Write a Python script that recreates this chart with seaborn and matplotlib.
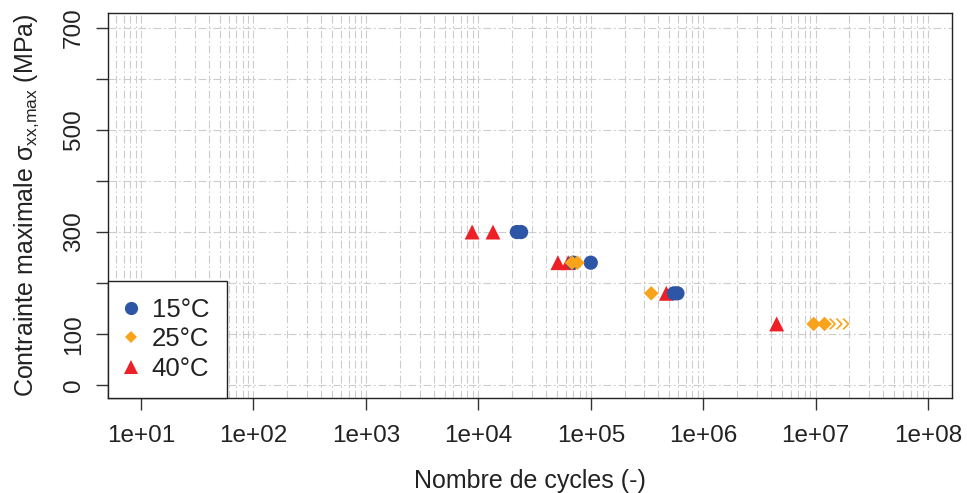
import numpy as np
import pandas as pd
import matplotlib
matplotlib.use("Agg")
import matplotlib.pyplot as plt
import seaborn as sns
from matplotlib.ticker import LogLocator, FixedLocator, NullFormatter
from matplotlib.path import Path
from matplotlib.lines import Line2D

# ---- data ----
cycles_15 = [2.2e4, 2.4e4, 7.0e4, 1.0e5, 5.5e5, 5.9e5]
stress_15 = [300, 300, 240, 240, 180, 180]
cycles_25 = [6.8e4, 7.6e4, 3.45e5, 9.6e6, 1.2e7]
stress_25 = [240, 240, 180, 120, 120]
cycles_40 = [8.8e3, 1.35e4, 5.1e4, 6.3e4, 4.7e5, 4.5e6]
stress_40 = [300, 300, 240, 240, 180, 120]
runout_x = [1.49e7, 1.71e7, 1.96e7]
runout_y = [120, 120, 120]
temps = ["15°C", "25°C", "40°C"]
yticks = [0, 100, 200, 300, 400, 500, 600, 700]
ytick_labels = ["0", "100", "", "300", "", "500", "", "700"]
xticks = [1e1, 1e2, 1e3, 1e4, 1e5, 1e6, 1e7, 1e8]
xtick_labels = ["1e+01", "1e+02", "1e+03", "1e+04", "1e+05", "1e+06", "1e+07", "1e+08"]

df = pd.DataFrame({
    "cycles": cycles_15 + cycles_25 + cycles_40,
    "stress": stress_15 + stress_25 + stress_40,
    "temp": [temps[0]] * len(cycles_15) + [temps[1]] * len(cycles_25) + [temps[2]] * len(cycles_40),
})

sns.set_style("white")
plt.rcParams["font.family"] = ["Liberation Sans", "DejaVu Sans"]
plt.rcParams["mathtext.fontset"] = "custom"
plt.rcParams["mathtext.rm"] = "Liberation Sans"
plt.rcParams["mathtext.it"] = "Liberation Sans"

palette = {"15°C": "#2E56A6", "25°C": "#F9A31B", "40°C": "#EE2027"}
markers = {"15°C": "o", "25°C": "D", "40°C": "^"}
sizes = {"15°C": 105, "25°C": 55, "40°C": 115}

fig = plt.figure(figsize=(9.67, 4.93), dpi=100)
ax = fig.add_axes([0.1117, 0.1927, 0.9845 - 0.1117, 0.9736 - 0.1927])

for t in ["40°C", "15°C", "25°C"]:
    sub = df[df["temp"] == t]
    sns.scatterplot(data=sub, x="cycles", y="stress", color=palette[t],
                    marker=markers[t], s=sizes[t], edgecolor="none",
                    linewidth=0, ax=ax, legend=False, zorder=3)

chev = Path([(-1, 1), (0, 0), (-1, -1)], [Path.MOVETO, Path.LINETO, Path.LINETO])
ax.scatter(runout_x, runout_y, marker=chev, s=60, facecolors="none",
           edgecolors=palette["25°C"], linewidths=1.2, zorder=3)

ax.set_xscale("log")
ax.set_xlim(10 ** 0.706, 10 ** 8.213)
ax.set_ylim(-25, 729)

ax.xaxis.set_major_locator(FixedLocator(xticks))
ax.set_xticklabels(xtick_labels)
ax.xaxis.set_minor_locator(LogLocator(base=10, subs=np.arange(2, 10), numticks=100))
ax.xaxis.set_minor_formatter(NullFormatter())
ax.yaxis.set_major_locator(FixedLocator(yticks))
ax.set_yticklabels(ytick_labels, rotation=90, va="center")

ax.tick_params(axis="both", which="major", direction="out", length=8.5, width=1,
               labelsize=17.5, color="#333333", labelcolor="#222222",
               bottom=True, left=True)
ax.tick_params(axis="x", which="major", pad=11)
ax.tick_params(axis="y", which="major", pad=8)
ax.tick_params(axis="x", which="minor", length=0)

gls = (0, (7, 2.5, 1.5, 2.5))
ax.grid(True, which="major", axis="both", color="#CCCCCC", linestyle=gls, linewidth=0.8)
ax.grid(True, which="minor", axis="x", color="#CCCCCC", linestyle=gls, linewidth=0.8)
ax.set_axisbelow(True)

for sp in ax.spines.values():
    sp.set_color("#222222")
    sp.set_linewidth(1.0)

ax.set_xlabel("Nombre de cycles (-)", fontsize=18, color="#222222", labelpad=16)
ax.set_ylabel(r"Contrainte maximale $\mathregular{\sigma_{xx{,}max}}$ (MPa)",
              fontsize=18, color="#222222", labelpad=16)

handles = [Line2D([], [], linestyle="none", marker=markers[t], color=palette[t],
                  markersize={"15°C": 9.5, "25°C": 6.5, "40°C": 10.5}[t], markeredgewidth=0)
           for t in temps]
leg = ax.legend(handles, temps, loc="lower left", bbox_to_anchor=(0, 0),
                borderaxespad=0, fontsize=18.5, frameon=True, fancybox=False,
                framealpha=1, edgecolor="#222222", handlelength=0.4,
                handletextpad=0.62, labelspacing=0.2, borderpad=0.68)
leg.get_frame().set_linewidth(1.0)
for txt in leg.get_texts():
    txt.set_color("#222222")

fig.savefig("out.png", dpi=100)
